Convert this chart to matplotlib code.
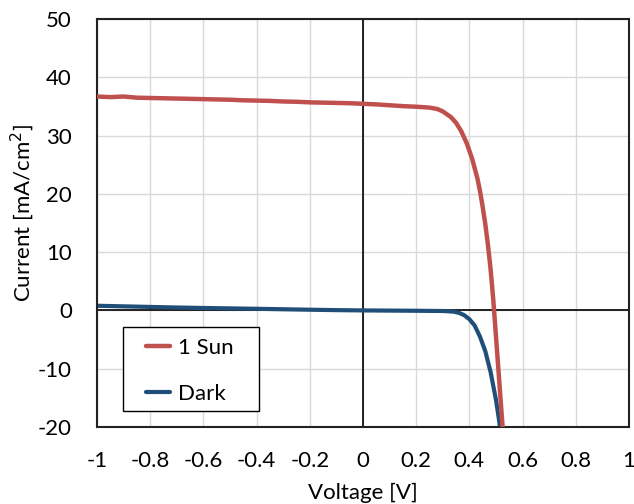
import matplotlib
matplotlib.use("Agg")
import matplotlib.pyplot as plt
from matplotlib.patches import Rectangle

plt.rcParams['font.family'] = ['Lato', 'DejaVu Sans']
plt.rcParams['axes.unicode_minus'] = False

V_sun = [-1.0, -0.95, -0.9, -0.85, -0.8, -0.75, -0.7, -0.65, -0.6, -0.55, -0.5,
         -0.45, -0.4, -0.35, -0.3, -0.25, -0.2, -0.15, -0.1, -0.05, 0.0, 0.05,
         0.1, 0.15, 0.2, 0.25, 0.28, 0.30, 0.33, 0.35, 0.37, 0.39, 0.41, 0.43,
         0.44, 0.45, 0.46, 0.47, 0.48, 0.49, 0.50, 0.51, 0.52, 0.53]
J_sun = [36.7, 36.6, 36.7, 36.5, 36.45, 36.4, 36.35, 36.3, 36.25, 36.2, 36.15,
         36.05, 36.0, 35.95, 35.85, 35.8, 35.7, 35.65, 35.6, 35.55, 35.45, 35.35,
         35.2, 35.05, 34.95, 34.8, 34.55, 34.15, 33.2, 32.2, 30.7, 28.7, 26.1, 22.7,
         20.5, 17.8, 14.8, 11.2, 7.0, 1.8, -4.4, -10.6, -16.9, -23.0]

V_dark = [-1.0, -0.9, -0.8, -0.7, -0.6, -0.5, -0.4, -0.3, -0.2, -0.1, 0.0, 0.1,
          0.2, 0.25, 0.3, 0.34, 0.36, 0.38, 0.40, 0.42, 0.44, 0.46, 0.48, 0.50,
          0.51, 0.52]
J_dark = [0.8, 0.7, 0.6, 0.5, 0.42, 0.35, 0.28, 0.2, 0.12, 0.05, 0.0, -0.03,
          -0.06, -0.08, -0.1, -0.2, -0.4, -0.8, -1.5, -2.6, -4.5, -7.0, -10.6,
          -15.3, -18.3, -21.5]

x_ticks = [-1, -0.8, -0.6, -0.4, -0.2, 0, 0.2, 0.4, 0.6, 0.8, 1]
x_labels = ['-1', '-0.8', '-0.6', '-0.4', '-0.2', '0', '0.2', '0.4', '0.6', '0.8', '1']
y_ticks = [-20, -10, 0, 10, 20, 30, 40, 50]

FS = 16

fig = plt.figure(figsize=(6.34, 5.04), dpi=100)
ax = fig.add_axes([0.153, 0.1528, 0.839, 0.8095])

ax.set_xlim(-1, 1)
ax.set_ylim(-20, 50)
ax.set_xticks(x_ticks)
ax.set_xticklabels(x_labels)
ax.set_yticks(y_ticks)
ax.grid(True, color='#D9D9D9', linewidth=1.0)
ax.set_axisbelow(True)
ax.tick_params(length=0, labelsize=FS, colors='black')
ax.tick_params(axis='x', pad=17)
ax.tick_params(axis='y', pad=18)
for s in ax.spines.values():
    s.set_linewidth(1.5)
    s.set_color('#222222')

ax.axhline(0, color='black', linewidth=1.2, zorder=1.5)
ax.axvline(0, color='black', linewidth=1.2, zorder=1.5)

ax.plot(V_sun, J_sun, color='#C0504D', linewidth=3.2, label='1 Sun',
        solid_capstyle='round', solid_joinstyle='round', zorder=3)
ax.plot(V_dark, J_dark, color='#1F4E79', linewidth=3.0, label='Dark',
        solid_capstyle='round', solid_joinstyle='round', zorder=2.5)

# legend box
box = Rectangle((0.049, 0.039), 0.256, 0.206, transform=ax.transAxes,
                facecolor='white', edgecolor='black', linewidth=1.0, zorder=4)
ax.add_patch(box)
leg = ax.legend(loc='upper left', bbox_to_anchor=(0.092, 0.218), borderaxespad=0,
                fontsize=FS, frameon=False, handlelength=1.1, handletextpad=0.35,
                labelspacing=1.15, borderpad=0)
leg.set_zorder(5)

ax.set_xlabel('Voltage [V]', fontsize=FS, va='center')
ax.xaxis.set_label_coords(0.5, -0.162)
ax.set_ylabel('Current [mA/cm$^2$]', fontsize=FS, va='center')
ax.yaxis.set_label_coords(-0.141, 0.525)

fig.savefig('out.png', dpi=100)
